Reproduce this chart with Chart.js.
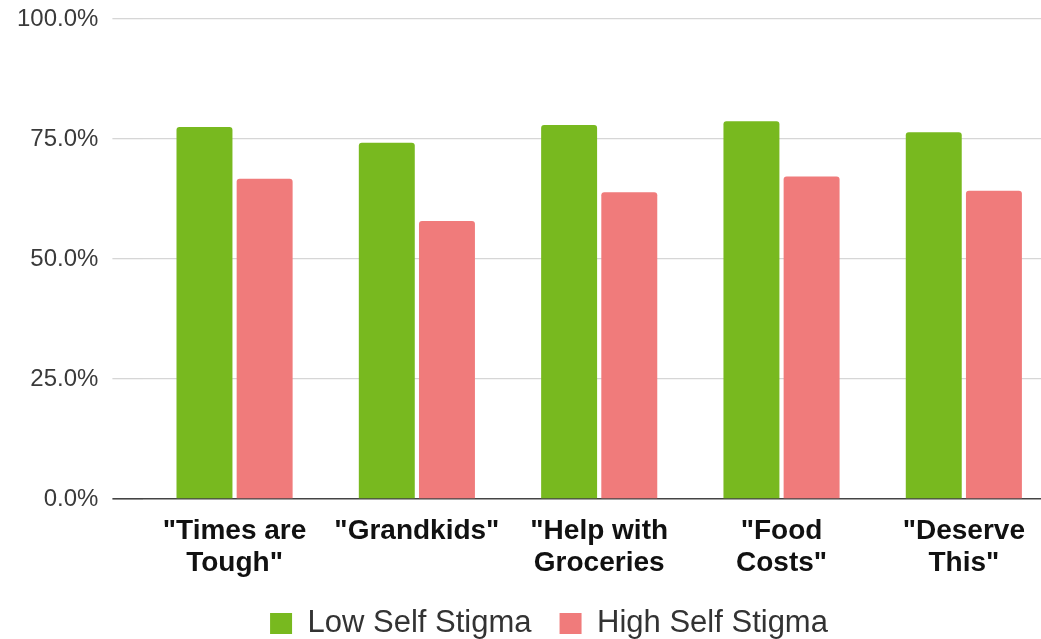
<!DOCTYPE html>
<html>
<head>
<meta charset="utf-8">
<script src="https://cdn.jsdelivr.net/npm/chart.js@4.4.1/dist/chart.umd.min.js"></script>
<style>
  html, body { margin: 0; padding: 0; background: #fff; overflow: hidden; }
  #wrap { position: absolute; left: 0; top: 0; }
</style>
</head>
<body>
<div id="wrap"><canvas id="stigmaChart" width="1055" height="639"></canvas></div>
<script>
const categories = [
    ['"Times are', 'Tough"'],
    ['"Grandkids"'],
    ['"Help with', 'Groceries'],
    ['"Food', 'Costs"'],
    ['"Deserve', 'This"']
];
const lowStigma = [77.5, 74.2, 77.9, 78.7, 76.4];
const highStigma = [66.7, 57.9, 63.9, 67.2, 64.2];
const seriesNames = ['Low Self Stigma', 'High Self Stigma'];
const yTicks = [0, 25, 50, 75, 100];

const fontFamily = '"Liberation Sans", Arial, sans-serif';

// the legend sits a little right of the canvas centre, under the bars
const legendNudge = {
    id: 'legendNudge',
    afterLayout(chart) {
        chart.legend.left += 43;
    }
};

const ctx = document.getElementById('stigmaChart').getContext('2d');
const stigmaChart = new Chart(ctx, {
    type: 'bar',
    data: {
        labels: categories,
        datasets: [{
            label: seriesNames[0],
            data: lowStigma,
            backgroundColor: '#78b91f',
            borderRadius: { topLeft: 3, topRight: 3 },
            borderSkipped: 'start',
            categoryPercentage: 0.66,
            barPercentage: 0.93
        }, {
            label: seriesNames[1],
            data: highStigma,
            backgroundColor: '#f07b7b',
            borderRadius: { topLeft: 3, topRight: 3 },
            borderSkipped: 'start',
            categoryPercentage: 0.66,
            barPercentage: 0.93
        }]
    },
    plugins: [legendNudge],
    options: {
        responsive: false,
        animation: false,
        layout: {
            padding: { left: 0, right: 0, top: 19, bottom: -10 }
        },
        plugins: {
            tooltip: { enabled: false },
            legend: {
                position: 'bottom',
                labels: {
                    boxWidth: 22,
                    boxHeight: 21,
                    padding: 28,
                    color: '#333',
                    font: { family: fontFamily, size: 31 }
                }
            }
        },
        scales: {
            x: {
                afterFit(scale) { scale.height = 81; },
                grid: { display: false, drawTicks: false },
                border: { display: false },
                ticks: {
                    padding: 16,
                    color: '#111',
                    maxRotation: 0,
                    autoSkip: false,
                    font: { family: fontFamily, size: 28, weight: 'bold', lineHeight: 1.15 }
                }
            },
            y: {
                min: 0,
                max: 100,
                afterFit(scale) {
                    scale.width = 143.4;
                    scale.paddingTop = 0;
                    scale.paddingBottom = 0;
                },
                afterBuildTicks(scale) { scale.ticks = yTicks.map(v => ({ value: v })); },
                border: { display: false },
                grid: {
                    color: c => c.tick && c.tick.value === 0 ? '#444' : '#d6d6d6',
                    lineWidth: c => c.tick && c.tick.value === 0 ? 1.6 : 1.3,
                    drawTicks: true,
                    tickLength: 31
                },
                ticks: {
                    padding: 14,
                    color: '#3a3a3a',
                    font: { family: fontFamily, size: 24 },
                    callback: v => v.toFixed(1) + '%'
                }
            }
        }
    }
});
</script>
</body>
</html>
